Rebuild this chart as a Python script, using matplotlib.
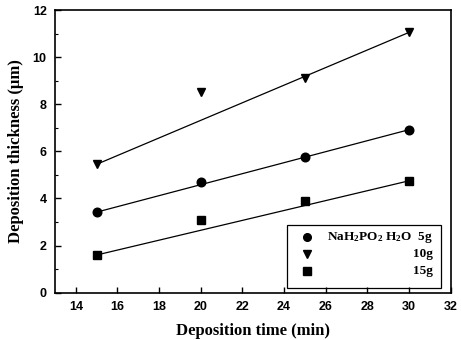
import numpy as np
import matplotlib.pyplot as plt
from matplotlib.patches import Rectangle

# data
time = [15, 20, 25, 30]
thick_5g = [3.42, 4.68, 5.78, 6.92]
thick_10g = [5.45, 8.5, 9.1, 11.05]
thick_15g = [1.6, 3.1, 3.9, 4.75]
labels = ['NaH$_2$PO$_2$ H$_2$O  5g', '10g', '15g']
markers = ['o', 'v', 's']

plt.rcParams['mathtext.fontset'] = 'custom'
plt.rcParams['mathtext.rm'] = 'Liberation Serif:bold'
plt.rcParams['mathtext.it'] = 'Liberation Serif:bold'

fig = plt.figure(figsize=(4.61, 3.40), dpi=100)
ax = fig.add_axes([55/461, 1-292.7/340, 395.7/461, 282.7/340])

for y, m in zip([thick_5g, thick_10g, thick_15g], markers):
    y = np.array(y)
    ax.plot(time, y, m, color='black', markersize=6.2 if m != 's' else 5.6)
    # straight line joining the first and last points
    ax.plot([time[0], time[-1]], [y[0], y[-1]], '-', color='black', lw=0.9)

ax.set_xlim(13, 32)
ax.set_ylim(0, 12)
ax.set_xticks(np.arange(14, 33, 2))
ax.set_yticks(np.arange(0, 13, 2))
ax.set_yticks(np.arange(0, 13, 1), minor=True)
ax.tick_params(direction='in', length=4, width=1, labelsize=9, pad=6)
ax.tick_params(which='minor', direction='in', length=2, width=0.8)
for s in ax.spines.values():
    s.set_linewidth(1.2)
for t in ax.get_xticklabels() + ax.get_yticklabels():
    t.set_fontweight('bold')
    t.set_family('Liberation Sans')

ax.set_xlabel('Deposition time (min)', family='Liberation Serif', fontweight='bold',
              fontsize=12, labelpad=7)
ax.set_ylabel('Deposition thickness (\u03bcm)', family='Liberation Serif', fontweight='bold',
              fontsize=12, labelpad=6)

# legend box drawn by hand so texts are right aligned
ax.add_patch(Rectangle((0.586, 0.018), 0.39, 0.22, transform=ax.transAxes,
                       fill=False, lw=0.9, ec='black'))
for i, (lab, m) in enumerate(zip(labels, markers)):
    yy = 0.196 - i * 0.06
    ax.plot([0.637], [yy], m, color='black', markersize=5.5, transform=ax.transAxes,
            clip_on=False)
    ax.text(0.955, yy, lab, transform=ax.transAxes, ha='right', va='center',
            family='Liberation Serif', fontweight='bold', fontsize=9.5)

fig.savefig('out.png', dpi=100)
